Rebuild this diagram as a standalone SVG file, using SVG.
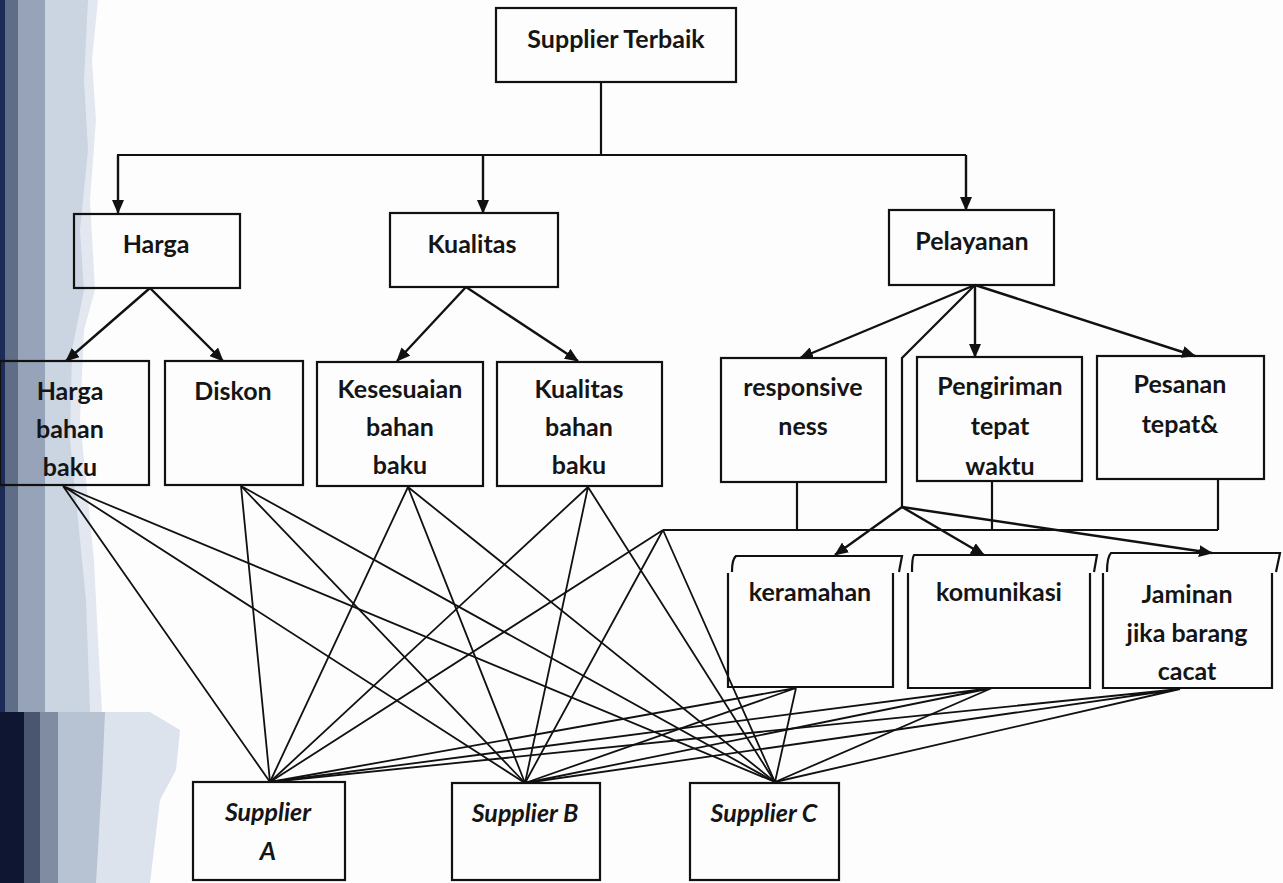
<svg xmlns="http://www.w3.org/2000/svg" width="1283" height="883" viewBox="0 0 1283 883">
<defs>
<marker id="ah" markerUnits="userSpaceOnUse" markerWidth="14" markerHeight="12" refX="13" refY="6" orient="auto">
<path d="M0,0 L14,6 L0,12 Z" fill="#111"/>
</marker>
<style>
.box{fill:none;stroke:#111;stroke-width:2.2}
.t{font-family:Lato,"Liberation Sans",sans-serif;font-size:25px;font-weight:bold;fill:#151515;text-anchor:middle}
.ti{font-family:Lato,"Liberation Sans",sans-serif;font-size:25px;font-weight:bold;fill:#151515;text-anchor:middle;font-style:italic}
.arr{stroke:#111;stroke-width:2.4;fill:none;marker-end:url(#ah)}
.ln{stroke:#111;stroke-width:2.2;fill:none}
.fan{stroke:#111;stroke-width:1.8;fill:none}
</style>
</defs>
<rect x="0" y="0" width="1283" height="883" fill="#fdfdfd"/>
<g id="scan-edge">
<path d="M0,0 H98 L92,60 L96,120 L90,200 L95,290 L84,330 L80,420 L88,500 L94,560 L98,640 L102,712 H0 Z" fill="#e3e8f0"/>
<path d="M0,0 H88 L84,80 L88,150 L80,230 L84,290 L72,350 L70,440 L78,520 L86,600 L90,712 H0 Z" fill="#cbd4e1"/>
<rect x="0" y="0" width="45" height="712" fill="#97a3b8"/>
<rect x="0" y="0" width="18" height="712" fill="#5f6d87"/>
<rect x="0" y="0" width="5" height="712" fill="#1c2b57"/>
<path d="M0,712 H150 L180,730 L176,770 L160,800 L150,883 H0 Z" fill="#dde3ec"/>
<path d="M0,712 H105 L102,780 L96,883 H0 Z" fill="#b7c2d2"/>
<rect x="0" y="712" width="58" height="171" fill="#7f8ca2"/>
<rect x="0" y="712" width="40" height="171" fill="#4a5670"/>
<rect x="0" y="712" width="24" height="171" fill="#0e1632"/>
</g>
<g id="connectors">
<path class="ln" d="M601,82 V155 M117,155 H966"/>
<path class="arr" d="M118,155 V213"/>
<path class="arr" d="M483,155 V213"/>
<path class="arr" d="M966,155 V210"/>
<path class="arr" d="M150,288 L66,361"/>
<path class="arr" d="M150,288 L223,361"/>
<path class="arr" d="M466,287 L397,361"/>
<path class="arr" d="M466,287 L578,361"/>
<path class="arr" d="M975,285 L800,358"/>
<path class="arr" d="M975,285 V357"/>
<path class="arr" d="M975,285 L1195,356"/>
<path class="ln" d="M975,285 L902,358 V507"/>
<path class="arr" d="M902,507 L835,555"/>
<path class="arr" d="M902,507 L984,555"/>
<path class="arr" d="M902,507 L1212,553"/>
<path class="ln" d="M797,482 V530 M992,481 V530 M1218,479 V530 M663,530 H1218"/>
<g class="fan">
<path d="M63,486 L270,782 M63,486 L525,783 M63,486 L775,782"/>
<path d="M241,486 L270,782 M241,486 L525,783 M241,486 L775,782"/>
<path d="M408,487 L270,782 M408,487 L525,783 M408,487 L775,782"/>
<path d="M588,487 L270,782 M588,487 L525,783 M588,487 L775,782"/>
<path d="M663,530 L270,782 M663,530 L525,783 M663,530 L775,782"/>
<path d="M796,688 L270,782 M796,688 L525,783 M796,688 L775,782"/>
<path d="M992,688 L270,782 M992,688 L525,783 M992,688 L775,782"/>
<path d="M1180,689 L270,782 M1180,689 L525,783 M1180,689 L775,782"/>
</g>
</g>
<g id="n-supplier-terbaik"><rect class="box" x="496" y="8" width="240" height="74"/><text class="t" x="616" y="48">Supplier Terbaik</text></g>
<g id="n-harga"><rect class="box" x="74" y="214" width="166" height="74"/><text class="t" x="156" y="253">Harga</text></g>
<g id="n-kualitas"><rect class="box" x="390" y="213" width="168" height="74"/><text class="t" x="472" y="253">Kualitas</text></g>
<g id="n-pelayanan"><rect class="box" x="889" y="210" width="165" height="75"/><text class="t" x="972" y="250">Pelayanan</text></g>
<g id="n-harga-bahan-baku"><rect class="box" x="0" y="361" width="149" height="124"/><text class="t" x="70" y="400">Harga</text><text class="t" x="70" y="438">bahan</text><text class="t" x="70" y="476">baku</text></g>
<g id="n-diskon"><rect class="box" x="165" y="361" width="138" height="124"/><text class="t" x="233" y="400">Diskon</text></g>
<g id="n-kesesuaian"><rect class="box" x="317" y="362" width="166" height="124"/><text class="t" x="400" y="398">Kesesuaian</text><text class="t" x="400" y="436">bahan</text><text class="t" x="400" y="474">baku</text></g>
<g id="n-kualitas-bahan-baku"><rect class="box" x="497" y="362" width="165" height="124"/><text class="t" x="579" y="398">Kualitas</text><text class="t" x="579" y="436">bahan</text><text class="t" x="579" y="474">baku</text></g>
<g id="n-responsiveness"><rect class="box" x="721" y="358" width="165" height="124"/><text class="t" x="803" y="396">responsive</text><text class="t" x="803" y="435">ness</text></g>
<g id="n-pengiriman"><rect class="box" x="917" y="357" width="165" height="124"/><text class="t" x="1000" y="395">Pengiriman</text><text class="t" x="1000" y="435">tepat</text><text class="t" x="1000" y="475">waktu</text></g>
<g id="n-pesanan"><rect class="box" x="1097" y="356" width="167" height="123"/><text class="t" x="1180" y="393">Pesanan</text><text class="t" x="1180" y="433">tepat&amp;</text></g>
<g id="n-keramahan"><path class="box" d="M732,572 Q732,559 736,556 H902 L899,572 M728,573 V687 H893 V573"/><text class="t" x="810" y="601">keramahan</text></g>
<g id="n-komunikasi"><path class="box" d="M912,572 Q912,558 914,555 H1097 L1094,572 M908,573 V688 H1090 V573"/><text class="t" x="999" y="601">komunikasi</text></g>
<g id="n-jaminan"><path class="box" d="M1107,572 Q1107,557 1111,553 H1280 L1276,572 M1103,573 V688 H1272 V573"/><text class="t" x="1187" y="603">Jaminan</text><text class="t" x="1187" y="642">jika barang</text><text class="t" x="1187" y="680">cacat</text></g>
<g id="n-supplier-a"><rect class="box" x="193" y="782" width="152" height="98" fill="#fdfdfd"/><text class="ti" x="268" y="821">Supplier</text><text class="ti" x="268" y="860">A</text></g>
<g id="n-supplier-b"><rect class="box" x="452" y="783" width="148" height="97"/><text class="ti" x="525" y="822">Supplier B</text></g>
<g id="n-supplier-c"><rect class="box" x="690" y="783" width="149" height="97"/><text class="ti" x="764" y="822">Supplier C</text></g>
</svg>
